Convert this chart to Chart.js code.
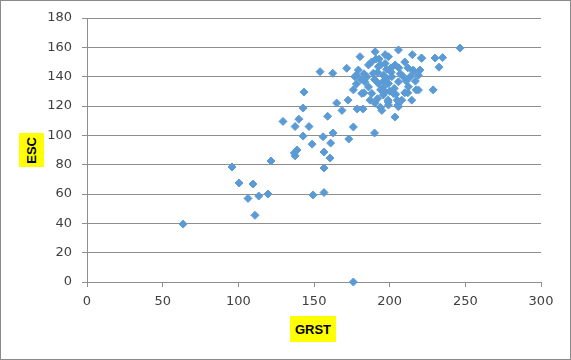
<!DOCTYPE html>
<html>
<head>
<meta charset="utf-8">
<script src="https://cdn.jsdelivr.net/npm/chart.js@4"></script>
<style>
  body { margin: 0; background: #fff; }
  #wrap { position: relative; width: 571px; height: 360px; }
  #frame { position: absolute; left: 0; top: 0; width: 571px; height: 360px; box-sizing: border-box; border: 1px solid #8a8a8a; pointer-events: none; }
  .axisTitle { position: absolute; background: #ffff00; color: #000; font: bold 13px "Liberation Sans", Arial, sans-serif; display: flex; align-items: center; justify-content: center; }
  #xTitle { left: 290px; top: 316px; width: 46px; height: 26px; }
  #yTitle { left: 19px; top: 133px; width: 25px; height: 34px; }
  #yTitle span { writing-mode: vertical-rl; transform: rotate(180deg); }
</style>
</head>
<body>
<div id="wrap">
  <canvas id="scatterChart" width="571" height="360"></canvas>
  <div class="axisTitle" id="yTitle"><span>ESC</span></div>
  <div class="axisTitle" id="xTitle">GRST</div>
  <div id="frame"></div>
</div>
<script>
// GRST (x) and ESC (y) values
const grst = [
  63.5, 95.8, 100.5, 106.4, 109.7, 111, 113.5, 119.6, 121.6, 129.5,
  137, 137.5, 138.8, 137.5, 140, 142.8, 143.4, 142.8, 146.7, 148.7,
  149.4, 154, 156, 156.6, 156.6, 156.6, 159, 160.6, 161, 162.6,
  162.4, 165, 168.5, 171.6, 172.5, 173, 176, 176, 176, 178.5,
  180.4, 182.4, 183, 187, 190, 190.4, 192, 194, 197, 199,
  199, 203.5, 205, 205.5, 205.8, 210, 212, 215, 215.5, 217.5,
  219, 221, 228.7, 230, 232.6, 235, 246.5,
  199.2, 221.2, 197, 186, 192.5, 203.6, 215.7, 220, 179.3, 189.2,
  195.8, 201.4, 209, 213.5, 183.7, 192.5, 199.2, 205.8, 212.4, 219,
  181.6, 188.2, 195.8, 202.4, 208, 214.6, 190.4, 199.2, 205.8, 194.8,
  185, 188, 193, 196, 198, 201, 203, 207, 210, 194,
  190, 186, 211, 217, 204, 200, 192, 197, 212, 177,
  178, 178, 181, 183, 196, 201, 194, 206, 198, 191
];
const esc = [
  39.5, 78.4, 67.5, 57, 66.8, 45.5, 58.6, 60, 82.5, 109.5,
  88, 86, 90, 106, 111, 118.6, 129.5, 99.5, 106, 94,
  59.3, 143.4, 99, 88.6, 77.7, 61, 113, 84.5, 94.7, 101.6,
  142.3, 122, 117, 145.7, 124, 97.5, 105.7, 131, 0, 118,
  153.6, 118, 129, 124, 101.6, 157, 125, 119, 129.5, 122.7,
  124, 112.5, 124, 120.6, 158.2, 129, 129, 155, 144.5, 131,
  141, 152.7, 131, 152.7, 146.5, 153, 159.5,
  153.6, 152.5, 149, 148, 146.8, 148, 143.4, 144.5, 144.5, 142.3,
  141, 140, 140, 140, 136.5, 135.4, 135.4, 136.5, 133.1, 130.9,
  128.6, 128.6, 127.5, 128.6, 124, 124, 121.8, 120.7, 119.5, 117,
  140, 150, 152, 137, 145, 146, 132, 142, 150, 131,
  138, 133, 137, 137, 128, 130, 143, 155, 146, 140,
  135, 141, 138, 142, 133, 143, 148, 146, 139, 152
];

const points = grst.map((g, i) => ({ x: g, y: esc[i] }));

const gridGray = '#8e8e8e';
const tickFont = { family: 'DejaVu Sans', size: 13 };

new Chart(document.getElementById('scatterChart'), {
  type: 'scatter',
  data: {
    datasets: [{
      label: 'ESC',
      data: points,
      pointStyle: 'rectRot',
      pointRadius: 4,
      pointBorderWidth: 1,
      backgroundColor: '#5b9bd5',
      borderColor: '#5b9bd5',
      clip: false,
    }],
  },
  options: {
    responsive: false,
    animation: false,
    layout: { padding: { top: 18, right: 30, left: 0, bottom: 0 } },
    plugins: {
      legend: { display: false },
      tooltip: { enabled: false },
    },
    scales: {
      x: {
        type: 'linear',
        min: 0,
        max: 300,
        ticks: { stepSize: 50, padding: 7, color: '#404040', font: tickFont },
        grid: { drawOnChartArea: false, drawTicks: true, tickLength: 5, color: gridGray },
        border: { display: true, color: gridGray },
        afterFit: (scale) => { scale.height = 78; },
      },
      y: {
        type: 'linear',
        min: 0,
        max: 180,
        ticks: { stepSize: 20, padding: 10, color: '#404040', font: tickFont },
        grid: { drawTicks: true, tickLength: 5, color: gridGray },
        border: { display: true, color: gridGray },
        afterFit: (scale) => { scale.width = 87; },
      },
    },
  },
});
</script>
</body>
</html>
